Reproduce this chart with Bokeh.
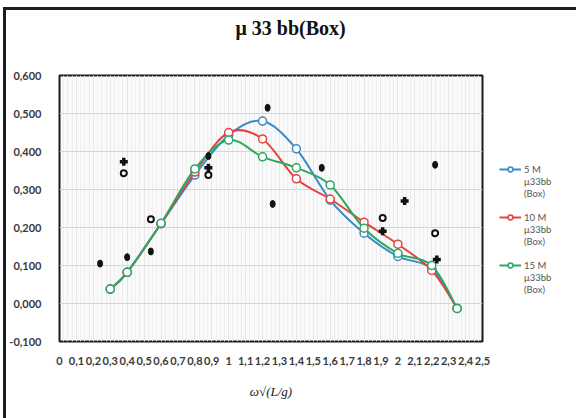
import numpy as np
from bokeh.plotting import figure
from bokeh.models import (FixedTicker, CustomJSTickFormatter, Legend, LegendItem,
                          Range1d, ColumnDataSource, Title)
from bokeh.embed import file_html
from bokeh.resources import INLINE

# ---------------- data ----------------
title_text = "μ 33 bb(Box)"
x_title = "ω√(L/g)"

x_ticks = [0.0, 0.1, 0.2, 0.3, 0.4, 0.5, 0.6, 0.7, 0.8, 0.9, 1.0, 1.1, 1.2,
           1.3, 1.4, 1.5, 1.6, 1.7, 1.8, 1.9, 2.0, 2.1, 2.2, 2.3, 2.4, 2.5]
x_tick_labels = ["0", "0,1", "0,2", "0,3", "0,4", "0,5", "0,6", "0,7", "0,8", "0,9",
                 "1", "1,1", "1,2", "1,3", "1,4", "1,5", "1,6", "1,7", "1,8", "1,9",
                 "2", "2,1", "2,2", "2,3", "2,4", "2,5"]
y_ticks = [-0.1, 0.0, 0.1, 0.2, 0.3, 0.4, 0.5, 0.6]
y_tick_labels = ["-0,100", "0,000", "0,100", "0,200", "0,300", "0,400", "0,500", "0,600"]

# simulation series (smoothed lines with open markers)
x_sim = [0.3, 0.4, 0.6, 0.8, 1.0, 1.2, 1.4, 1.6, 1.8, 2.0, 2.2, 2.35]
m5 = [0.038, 0.082, 0.210, 0.338, 0.443, 0.480, 0.407, 0.272, 0.185, 0.124, 0.092, -0.013]
m10 = [0.038, 0.082, 0.210, 0.346, 0.450, 0.433, 0.328, 0.275, 0.214, 0.156, 0.087, -0.013]
m15 = [0.038, 0.082, 0.211, 0.354, 0.430, 0.386, 0.357, 0.312, 0.198, 0.132, 0.100, -0.013]
series_first = ["5 M", "10 M", "15 M"]
series_rest = ["μ33bb", "(Box)"]
series_colors = ["#3a8ac9", "#e5433f", "#2da762"]

# experimental points (black)
exp_filled_x = [0.24, 0.40, 0.54, 0.88, 1.23, 1.26, 1.55, 2.22]
exp_filled_y = [0.105, 0.122, 0.137, 0.388, 0.515, 0.262, 0.357, 0.365]
exp_open_x = [0.38, 0.54, 0.88, 1.91, 2.22]
exp_open_y = [0.343, 0.222, 0.338, 0.225, 0.185]
exp_cross_x = [0.38, 0.88, 1.91, 2.04, 2.23]
exp_cross_y = [0.373, 0.357, 0.190, 0.270, 0.116]


def bezier_source(xs, ys):
    """Excel-like smoothed line: cubic Bezier control points from neighbours."""
    P = np.column_stack([xs, ys]).astype(float)
    n = len(P)
    d = dict(x0=[], y0=[], x1=[], y1=[], cx0=[], cy0=[], cx1=[], cy1=[])
    for i in range(n - 1):
        p0 = P[max(i - 1, 0)]
        p1 = P[i]
        p2 = P[i + 1]
        p3 = P[min(i + 2, n - 1)]
        c1 = p1 + (p2 - p0) / 6.0
        c2 = p2 - (p3 - p1) / 6.0
        d["x0"].append(p1[0]); d["y0"].append(p1[1])
        d["x1"].append(p2[0]); d["y1"].append(p2[1])
        d["cx0"].append(c1[0]); d["cy0"].append(c1[1])
        d["cx1"].append(c2[0]); d["cy1"].append(c2[1])
    return ColumnDataSource(d)


p = figure(frame_width=423, frame_height=266, output_backend="svg", toolbar_location=None,
           x_range=Range1d(0, 2.5), y_range=Range1d(-0.1, 0.6),
           min_border_left=53, min_border_right=94, min_border_top=65, min_border_bottom=77,
           background_fill_color="#fafafa", border_fill_color="white",
           outline_line_color="#1a1a1a", outline_line_width=2)
p.styles = {"margin-left": "3px", "margin-top": "7px",
            "border-left": "3px solid #1e1e1e", "border-top": "3px solid #1e1e1e"}

# title: a spacer panel next to the frame, the real title above it
p.title.text = ""
p.add_layout(Title(text=" ", text_font_size="10px", standoff=19), "above")
p.add_layout(Title(text=title_text, align="left", offset=176, standoff=6,
                   vertical_align="top", text_font="Liberation Serif",
                   text_font_style="bold", text_font_size="20px",
                   text_color="#111111"), "above")

minor_x = [round(v, 3) for v in np.arange(0, 2.5001, 0.025)]
p.xaxis.ticker = FixedTicker(ticks=x_ticks, minor_ticks=minor_x)
p.yaxis.ticker = FixedTicker(ticks=y_ticks)
fmt_code = """
let best = 0; let bd = 1e9;
for (let i = 0; i < tv.length; i++) {
  const dd = Math.abs(tv[i] - tick);
  if (dd < bd) { bd = dd; best = i; }
}
return tl[best];
"""
p.xaxis.formatter = CustomJSTickFormatter(args=dict(tv=x_ticks, tl=x_tick_labels), code=fmt_code)
p.yaxis.formatter = CustomJSTickFormatter(args=dict(tv=y_ticks, tl=y_tick_labels), code=fmt_code)

for ax in (p.xaxis[0], p.yaxis[0]):
    ax.axis_line_color = None
    ax.major_tick_line_color = None
    ax.minor_tick_line_color = None
    ax.major_label_text_font = "Lato"
    ax.major_label_text_font_style = "bold"
    ax.major_label_text_font_size = "11px"
    ax.major_label_text_color = "#3a3a3a"
p.xaxis.major_label_standoff = 9
p.yaxis.major_label_standoff = 12
p.xaxis.axis_label = x_title
p.xaxis.axis_label_text_font = "Liberation Serif"
p.xaxis.axis_label_text_font_style = "italic"
p.xaxis.axis_label_text_font_size = "13px"
p.xaxis.axis_label_text_color = "#222222"
p.xaxis.axis_label_standoff = 16

p.xgrid.grid_line_color = "#e6e6e6"
p.xgrid.minor_grid_line_color = "#eeeeee"
p.ygrid.grid_line_color = "#d6d6d6"

# invisible placeholder renderer for the continuation rows of the legend
blank = p.scatter(x=[], y=[], marker="circle", size=1, fill_alpha=0, line_alpha=0)

items = []
for k, (ys, first, col) in enumerate(zip([m5, m10, m15], series_first, series_colors)):
    src = bezier_source(x_sim, ys)
    br = p.bezier(x0="x0", y0="y0", x1="x1", y1="y1", cx0="cx0", cy0="cy0",
                  cx1="cx1", cy1="cy1", source=src, line_color=col, line_width=2)
    sr = p.scatter(x_sim, ys, marker="circle", size=8, fill_color="white",
                   line_color=col, line_width=1.5)
    if k > 0:
        items.append(LegendItem(label=" ", renderers=[blank]))
    items.append(LegendItem(label=first, renderers=[br, sr]))
    for rest in series_rest:
        items.append(LegendItem(label=rest, renderers=[blank]))

p.ellipse(exp_filled_x, exp_filled_y, width=5, height=7, width_units="screen",
          height_units="screen", fill_color="#111111", line_color="#111111")
p.scatter(exp_open_x, exp_open_y, marker="circle", size=6, fill_color="white",
          line_color="#111111", line_width=2)
p.scatter(exp_cross_x, exp_cross_y, marker="cross", size=8,
          line_color="#111111", line_width=3.5)

legend = Legend(items=items, location=(17, 46), padding=0, margin=0,
                border_line_color=None, background_fill_alpha=0,
                glyph_width=22, glyph_height=12, label_height=12, label_standoff=3,
                spacing=0, label_text_font="Lato", label_text_font_size="9.5px",
                label_text_color="#555555")
p.add_layout(legend, "right")

open("out.html", "w").write(file_html(p, INLINE))
